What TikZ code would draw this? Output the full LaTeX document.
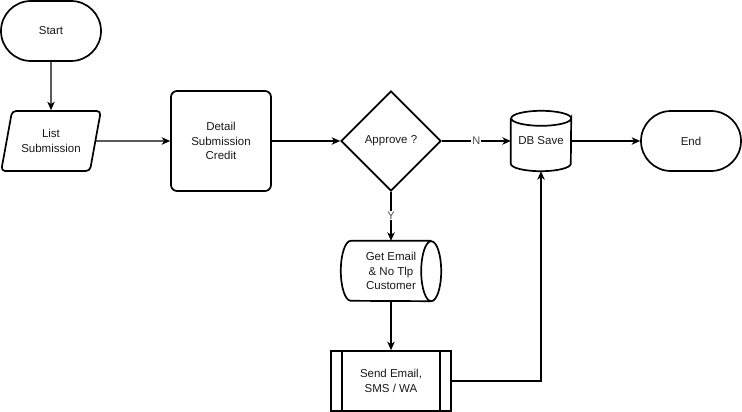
\documentclass[tikz,border=0pt]{standalone}
\usepackage{fontspec}
\setmainfont{Liberation Sans}
\usetikzlibrary{shapes.misc,shapes.geometric,arrows.meta}
\begin{document}
\begin{tikzpicture}[x=1pt,y=-1pt,
  every node/.style={font=\fontsize{11.5}{14.5}\selectfont, text=black!90, align=center},
  shp/.style={draw=black, line width=1.7pt},
  term/.style={shp, rounded rectangle, minimum width=100pt, minimum height=60pt, inner sep=0pt},
  para/.style={shp, trapezium, trapezium left angle=70, trapezium right angle=110, trapezium stretches, minimum width=100pt, minimum height=60pt, inner sep=0pt, rounded corners=4pt},
  rbox/.style={shp, rectangle, rounded corners=6pt, minimum width=100pt, minimum height=100pt, inner sep=0pt},
  dia/.style={shp, diamond, minimum width=100pt, minimum height=100pt, inner sep=0pt},
  ghost/.style={rectangle, draw=none, inner sep=0pt},
  conn/.style={draw=black, line width=1.1pt, -{Stealth[length=8.5pt,width=7.5pt,inset=2.5pt]}},
  lbl/.style={fill=white, inner sep=1pt, font=\fontsize{11}{13}\selectfont, text=black!70}
]
\useasboundingbox (0,0) rectangle (742,412);

\node[term] (start) at (51,31) {Start};
\node[para] (list) at (51,141) {List\\Submission};
\node[rbox] (detail) at (221,141) {Detail\\Submission\\Credit};
\node[dia] (appr) at (391,141) {Approve ?};
\node[ghost, minimum width=60pt, minimum height=60pt] (db) at (541,141) {DB Save};
\node[term] (end) at (691,141) {End};
\node[ghost, minimum width=100pt, minimum height=60pt] (get) at (391,271) {Get Email\\\& No Tlp\\Customer};
\node[shp, rectangle, minimum width=120pt, minimum height=60pt, inner sep=0pt] (send) at (391,381) {Send Email,\\SMS / WA};

% DB cylinder (arc angles are in page orientation: 90 is up)
\draw[shp] ([yshift=-7.5pt]db.north west) -- ([yshift=7.5pt]db.south west)
  arc[start angle=180, end angle=360, x radius=30pt, y radius=7.5pt]
  -- ([yshift=-7.5pt]db.north east)
  arc[start angle=0, end angle=-180, x radius=30pt, y radius=7.5pt]
  arc[start angle=180, end angle=0, x radius=30pt, y radius=7.5pt];
% Get Email horizontal cylinder
\draw[shp] ([xshift=-10pt]get.north east) -- ([xshift=10pt]get.north west)
  arc[start angle=90, end angle=270, x radius=10pt, y radius=30pt]
  -- ([xshift=-10pt]get.south east)
  arc[start angle=270, end angle=450, x radius=10pt, y radius=30pt]
  arc[start angle=90, end angle=270, x radius=10pt, y radius=30pt];
% process inner lines
\draw[shp] ([xshift=12pt]send.north west) -- ([xshift=12pt]send.south west);
\draw[shp] ([xshift=-12pt]send.north east) -- ([xshift=-12pt]send.south east);

\draw[conn] (start) -- (list);
\draw[conn] (list.east) -- (detail.west);
\draw[conn] (detail.east) -- (appr.west);
\draw[conn] (appr.east) -- node[lbl] {N} (db.west);
\draw[conn] (db.east) -- (end.west);
\draw[conn] (appr.south) -- node[lbl, pos=0.48] {Y} (get.north);
\draw[conn] (get.south) -- (send.north);
\draw[conn] (send.east) -| (db.south);
\end{tikzpicture}
\end{document}
